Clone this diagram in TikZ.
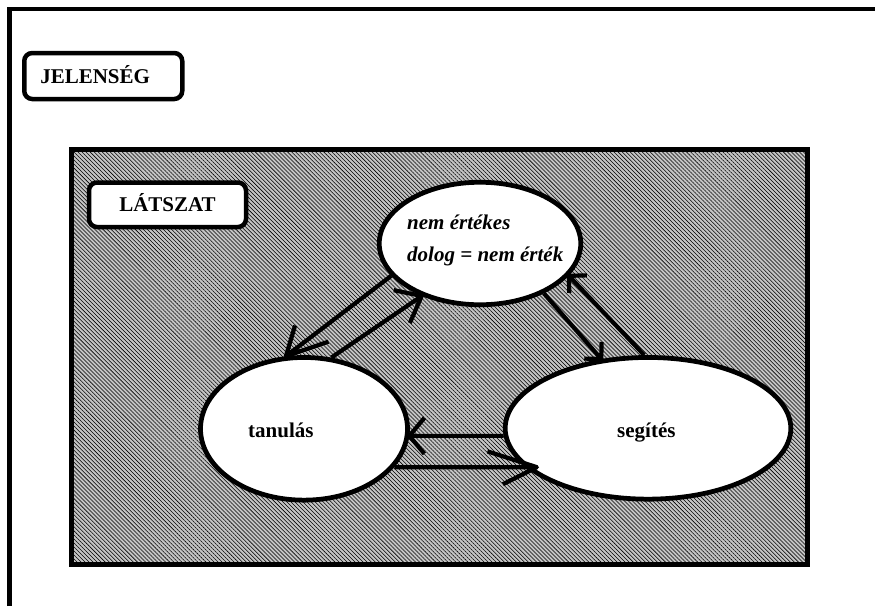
\documentclass[tikz,border=0pt]{standalone}
\usepackage{fontspec}
\setmainfont{Liberation Serif}
\usetikzlibrary{calc,patterns.meta,shapes.geometric}
\definecolor{hatchbg}{RGB}{196,196,196}
\tikzset{
  frame/.style={line width=4.5pt, line join=miter},
  hatched/.style={line width=5pt,
    preaction={fill=hatchbg},
    preaction={pattern={Lines[angle=-45,distance=2.85pt,line width=0.55pt]}, pattern color=black}},
  labelbox/.style={draw, rounded corners=8pt, line width=4.5pt, fill=white,
    font=\bfseries\fontsize{21}{25}\selectfont, text height=14pt, text depth=0pt},
  ellnode/.style={ellipse, draw, fill=white, line width=4.75pt, inner sep=0pt},
  txt/.style={inner sep=0pt, font=\bfseries\fontsize{21}{25}\selectfont},
  itxt/.style={inner sep=0pt, font=\bfseries\itshape\fontsize{21}{25}\selectfont},
  conn/.style={line width=4.2pt, line join=round}
}
\begin{document}
\begin{tikzpicture}[x=1pt,y=-1pt]
\useasboundingbox (0,0) rectangle (875,606);
% outer frame
\draw[frame] (9.6,606) -- (9.6,8.8) -- (875,8.8);
% JELENSEG label
\node[labelbox, minimum height=46pt, text width=126pt, inner xsep=16pt, align=left] (J) at (103.25,76) {JELENSÉG};
% hatched area
\draw[hatched] (71.5,149) rectangle (807.5,564);
\node[labelbox, minimum width=157pt, minimum height=44.5pt] (Lz) at (167.5,204.75) {LÁTSZAT};
% ellipses
\node[ellnode, minimum width=201.5pt, minimum height=122.5pt] (T) at (480,243.5) {};
\node[ellnode, minimum width=207pt, minimum height=142.7pt] (L) at (304,428.8) {};
\node[ellnode, minimum width=285.6pt, minimum height=141.7pt] (S) at (648,428.3) {};
% texts
\node[itxt, anchor=base west] (T1) at (407,229) {nem értékes};
\node[itxt, anchor=base west] (T2) at (407,261) {dolog = nem érték};
\node[txt, anchor=base west] (Ltxt) at (248,437) {tanulás};
\node[txt, anchor=base west] (Stxt) at (617,437) {segítés};
% helper coordinates for the horizontal connectors
\coordinate (Etip) at (S.183 -| L.356);
\coordinate (Ftip) at (L.337 -| S.203);
% connectors with open barbs
\draw[conn] (T.200) -- (L.104)
  -- ($(L.104)!32pt!36:(T.200)$) (L.104) -- ($(L.104)!45pt!-18.5:(T.200)$);
\draw[conn] (L.69) -- (T.222)
  -- ($(T.222)!28.5pt!-46:(L.69)$) (T.222) -- ($(T.222)!29.5pt!32:(L.69)$);
\draw[conn] (T.322) -- (S.124)
  -- ($(S.124)!17pt!-42.5:(T.322)$) (S.124) -- ($(S.124)!17pt!47.5:(T.322)$);
\draw[conn] (S.93) -- (T.340)
  -- ($(T.340)!18pt!48:(S.93)$) (T.340) -- ($(T.340)!17pt!-42:(S.93)$);
\draw[conn] (S.183) -- (Etip)
  -- ($(Etip)!23.4pt!50:(S.183)$) (Etip) -- ($(Etip)!23.4pt!-50:(S.183)$);
\draw[conn] (L.337) -- (Ftip)
  -- ($(Ftip)!52pt!-17.7:(L.337)$) (Ftip) -- ($(Ftip)!38pt!26.6:(L.337)$);
\end{tikzpicture}
\end{document}
